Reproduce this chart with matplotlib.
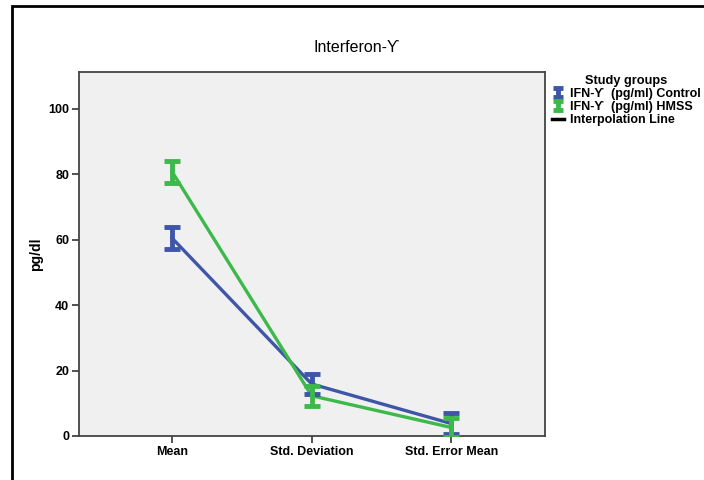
import numpy as np
import matplotlib.pyplot as plt
from matplotlib.lines import Line2D
from matplotlib.patches import Rectangle
from matplotlib.legend_handler import HandlerErrorbar

plt.rcParams['font.family'] = ['Liberation Sans', 'DejaVu Sans']

# summary statistics per group
stats = ['Mean', 'Std. Deviation', 'Std. Error Mean']
control = [60.5, 15.9, 3.8]
control_err = [3.3, 3.2, 3.1]
hmss = [80.8, 12.3, 2.6]
hmss_err = [3.4, 3.1, 3.0]

blue = '#3F56A8'
green = '#3CB94A'

fig = plt.figure(figsize=(7.04, 4.8), dpi=100)
ax = fig.add_axes([0.1122, 0.0917, 0.662, 0.7583])
ax.set_facecolor('#F0F0F0')

x = np.arange(len(stats))

# interpolation lines
ax.plot(x, control, color=blue, lw=2.4, zorder=3)
ax.plot(x, hmss, color=green, lw=2.4, zorder=3)

# error bars
eb_c = ax.errorbar(x, control, yerr=control_err, fmt='none', ecolor=blue,
                   elinewidth=3.5, capsize=6, capthick=3.5, zorder=4)
eb_h = ax.errorbar(x, hmss, yerr=hmss_err, fmt='none', ecolor=green,
                   elinewidth=3.5, capsize=6, capthick=3.5, zorder=5)

ax.set_xlim(-0.667, 2.672)
ax.set_ylim(0, 111.3)
ax.set_xticks(x)
ax.set_xticklabels(stats, fontsize=9, fontweight='bold')
ax.set_yticks([0, 20, 40, 60, 80, 100])
ax.set_yticklabels(['0', '20', '40', '60', '80', '100'], fontsize=9, fontweight='bold')
ax.tick_params(direction='out', length=5, width=1.2, color='#333333', pad=2)
for sp in ax.spines.values():
    sp.set_color('#444444')
    sp.set_linewidth(1.3)

ax.set_ylabel('pg/dl', fontsize=10, fontweight='bold')
ax.yaxis.set_label_coords(-0.078, 0.5)

fig.text(0.506, 0.902, 'Interferon-ϒ', ha='center', va='center', fontsize=11.5)


def small_caps(legend_handle, orig_handle):
    # narrower caps for the legend glyphs
    legend_handle.update_from(orig_handle)
    if isinstance(legend_handle, Line2D):
        legend_handle.set_markersize(7)


# legend
handles = [eb_c, eb_h, Line2D([], [], color='black', lw=2.5)]
labels = ['IFN-ϒ  (pg/ml) Control', 'IFN-ϒ  (pg/ml) HMSS', 'Interpolation Line']
hmap = {eb_c: HandlerErrorbar(xerr_size=0.3, yerr_size=0.36, update_func=small_caps),
        eb_h: HandlerErrorbar(xerr_size=0.3, yerr_size=0.36, update_func=small_caps)}
leg = fig.legend(handles, labels, loc='upper left', bbox_to_anchor=(0.781, 0.849),
                 frameon=False, title='Study groups', handlelength=0.9,
                 handletextpad=0.5, labelspacing=0.08, borderpad=0.2,
                 borderaxespad=0, handler_map=hmap,
                 prop={'size': 9, 'weight': 'bold'})
leg.get_title().set_fontsize(9.2)
leg.get_title().set_fontweight('bold')

# outer frame
fig.patches.append(Rectangle((12 / 704, -0.1), 1.2, 1.1 - 6 / 480,
                             transform=fig.transFigure, fill=False,
                             edgecolor='black', lw=2))

fig.savefig('out.png', dpi=100)
